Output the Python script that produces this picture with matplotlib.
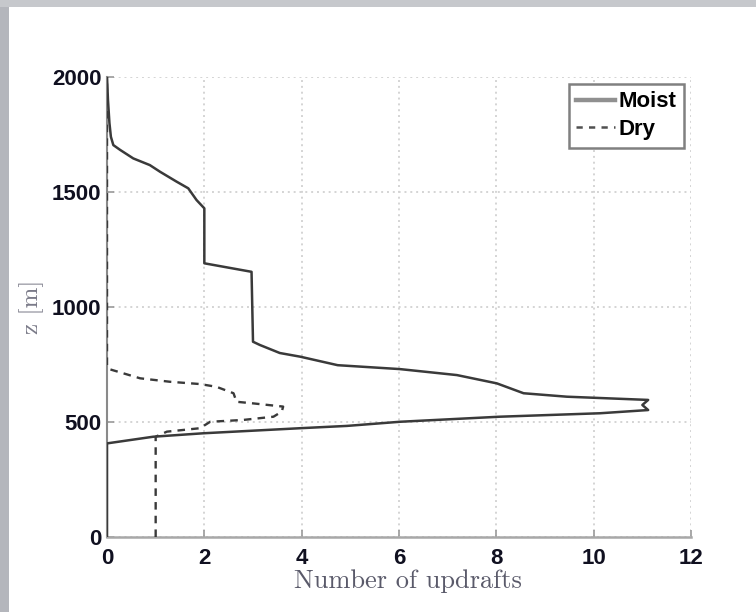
import matplotlib
matplotlib.use("Agg")
import matplotlib.pyplot as plt
from matplotlib.lines import Line2D
from matplotlib.patches import Rectangle

# Data
moist_x = [0, 0.02, 0.05, 0.08, 0.13, 0.27, 0.54, 0.88, 1.09, 1.43, 1.67, 1.84, 2.0, 2.0,
           2.97, 3.0, 3.14, 3.55, 3.97, 4.74, 6.02, 7.19, 8.01, 8.56, 9.45, 11.12, 11.0,
           11.12, 10.13, 8.07, 6.02, 4.93, 3.97, 1.98, 0.95, 0, 0]
moist_z = [2000, 1900, 1800, 1740, 1704, 1683, 1646, 1617, 1588, 1545, 1516, 1465, 1429, 1190,
           1153, 849, 835, 800, 784, 747, 730, 704, 668, 625, 610, 596, 574,
           552, 538, 523, 501, 483, 473, 451, 436, 407, 0]

dry_x = [1, 1, 1.23, 1.91, 2.12, 2.8, 3.42, 3.59, 3.62, 3.0, 2.66, 2.6, 2.25, 1.91, 1.29,
         0.68, 0.33, 0.06, 0, 0]
dry_z = [0, 436, 458, 473, 501, 509, 523, 545, 567, 581, 588, 625, 653, 665, 675,
         690, 712, 729, 741, 2000]

x_ticks = [0, 2, 4, 6, 8, 10, 12]
y_ticks = [0, 500, 1000, 1500, 2000]
series_labels = ["Moist", "Dry"]
x_label = "Number of updrafts"
y_label = "z [m]"

fig = plt.figure(figsize=(7.56, 6.12), dpi=100)
fig.patch.set_facecolor("white")
# gray frame strips (left and top)
fig.patches.append(Rectangle((0, 0), 9 / 756, 1, transform=fig.transFigure,
                             facecolor="#b4b6bc", edgecolor="none", zorder=-10))
fig.patches.append(Rectangle((0, 1 - 7 / 612), 1, 7 / 612, transform=fig.transFigure,
                             facecolor="#c6c8cc", edgecolor="none", zorder=-10))

ax = fig.add_axes([107 / 756, 1 - 537 / 612, 584 / 756, 460 / 612])

ax.plot(moist_x, moist_z, color="#3a3a3a", lw=1.8, solid_joinstyle="round", zorder=3)
ax.plot(dry_x, dry_z, color="#3a3a3a", lw=1.7, linestyle=(0, (3.2, 2.6)), zorder=3)

ax.set_xlim(0, 12)
ax.set_ylim(0, 2000)
ax.set_xticks(x_ticks)
ax.set_yticks(y_ticks)
ax.set_xticklabels([str(t) for t in x_ticks])
ax.set_yticklabels([str(t) for t in y_ticks])

ax.grid(True, linestyle=(0, (1, 2)), color="#d4d4d4", lw=1.4)
ax.set_axisbelow(True)
for s in ["top", "right"]:
    ax.spines[s].set_visible(False)
ax.spines["left"].set_color("#8a8a8a")
ax.spines["left"].set_linewidth(1.5)
ax.spines["bottom"].set_color("#a8a8a8")
ax.spines["bottom"].set_linewidth(1.8)
ax.spines["left"].set_zorder(1)

ax.tick_params(direction="in", length=5, width=1.2, color="#9a9a9a")
ax.tick_params(axis="x", pad=8)
ax.tick_params(axis="y", pad=4)
for lab in ax.get_xticklabels() + ax.get_yticklabels():
    lab.set_fontfamily("Liberation Sans")
    lab.set_fontweight("bold")
    lab.set_fontsize(16)
    lab.set_color("#101020")

ax.set_xlabel(x_label, fontfamily="cmr10", fontsize=19, color="#5a5a6a", labelpad=0)
ax.xaxis.label.set_x(0.515)
ax.set_ylabel(y_label, fontfamily="cmr10", fontsize=18, color="#7a7a88", labelpad=6)

handles = [Line2D([], [], color="#909090", lw=3.2),
           Line2D([], [], color="#505050", lw=1.8, linestyle=(0, (2.5, 2.5)))]
leg = ax.legend(handles, series_labels, loc="upper right", bbox_to_anchor=(1.0, 1.0),
                borderaxespad=0.3, fancybox=False, framealpha=1,
                edgecolor="#808080", handlelength=1.75, handletextpad=0.15,
                labelspacing=0.3, borderpad=0.35,
                prop={"family": "Liberation Sans", "weight": "bold", "size": 16})
leg.get_frame().set_linewidth(1.8)

fig.savefig("out.png", dpi=100)
